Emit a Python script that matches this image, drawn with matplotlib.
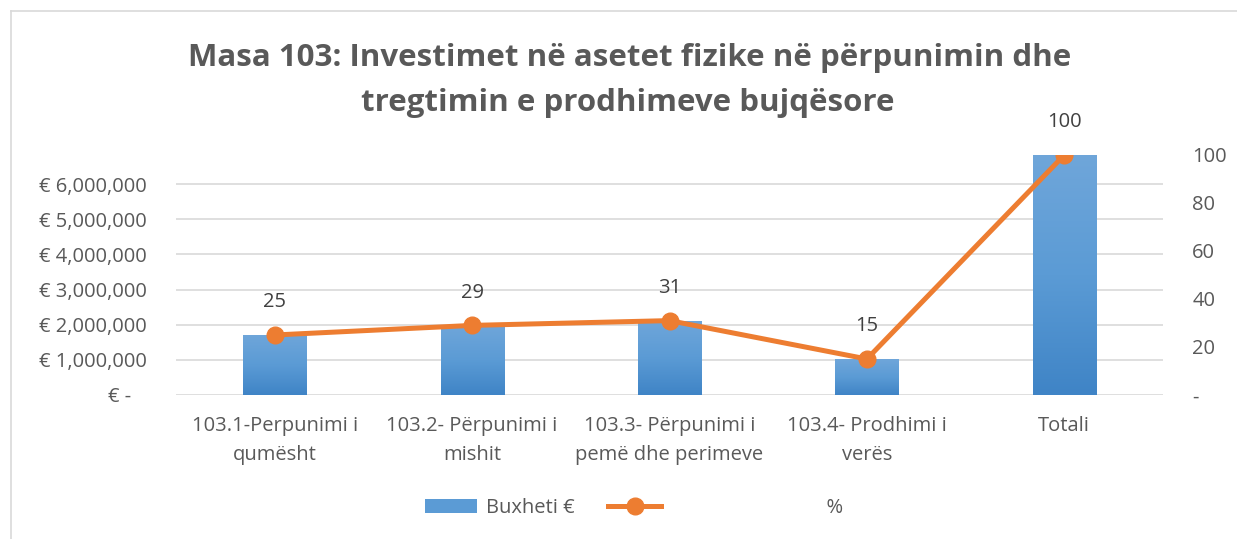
import numpy as np
import matplotlib.pyplot as plt
from matplotlib.lines import Line2D
from matplotlib.patches import Patch
from matplotlib.colors import LinearSegmentedColormap

# ---- data ----
categories = ["103.1-Perpunimi i\nqumësht", "103.2- Përpunimi i\nmishit",
              "103.3- Përpunimi i\npemë dhe perimeve", "103.4- Prodhimi i\nverës", "Totali"]
budget = [1720000, 1980000, 2110000, 1020000, 6830000]
percent = [25, 29, 31, 15, 100]
left_ticks = [0, 1000000, 2000000, 3000000, 4000000, 5000000, 6000000]
left_labels = ["€ -   ", "€ 1,000,000", "€ 2,000,000", "€ 3,000,000",
               "€ 4,000,000", "€ 5,000,000", "€ 6,000,000"]
right_ticks = [0, 20, 40, 60, 80, 100]
right_labels = ["-", "20", "40", "60", "80", "100"]

plt.rcParams['font.family'] = ['Open Sans', 'DejaVu Sans']
txt = "#595959"
orange = "#ED7D31"
fs = 14.5

fig = plt.figure(figsize=(12.37, 5.39), dpi=100)
ax = fig.add_axes([176 / 1237, 1 - 395 / 539, (1163 - 176) / 1237, 240 / 539])
ax2 = ax.twinx()

x = np.arange(len(categories))
width = 0.32

# ---- bars with vertical gradient ----
grad = np.linspace(0, 1, 256).reshape(-1, 1)
cmap = LinearSegmentedColormap.from_list("bar", ["#3f84c6", "#5b9bd5", "#6fa6da"])
bars = ax.bar(x, budget, width=width, color="#5b9bd5", zorder=2)
for b in bars:
    x0, y0 = b.get_x(), b.get_y()
    im = ax.imshow(grad, cmap=cmap, origin="lower", aspect="auto",
                   extent=[x0, x0 + b.get_width(), y0, y0 + b.get_height()], zorder=2)
    im.set_clip_path(b)

ax.set_xlim(-0.5, len(categories) - 0.5)
ax.set_ylim(0, budget[-1])
ax.set_yticks(left_ticks)
ax.set_yticklabels(left_labels)
ax.yaxis.grid(True, color="#d9d9d9", linewidth=1.2, zorder=0)
ax.set_axisbelow(True)
ax.set_xticks(x)
ax.set_xticklabels(categories, fontsize=fs, color=txt, linespacing=1.6)
ax.tick_params(axis="both", length=0, labelsize=fs, labelcolor=txt)
ax.tick_params(axis="x", pad=15)
ax.tick_params(axis="y", pad=21)
for s in ax.spines.values():
    s.set_visible(False)

# ---- line on secondary axis ----
ax2.plot(x, percent, color=orange, linewidth=3.6, marker="o", markersize=12,
         solid_capstyle="round", zorder=3)
for xi, p in zip(x, percent):
    ax2.annotate(str(p), (xi, p), xytext=(0, 23.5), textcoords="offset points",
                 ha="center", va="center", fontsize=fs, color="#404040")
ax2.set_ylim(0, 100)
ax2.set_yticks(right_ticks)
ax2.set_yticklabels(right_labels)
ax2.tick_params(axis="y", length=0, labelsize=fs, labelcolor=txt, pad=21)
for s in ax2.spines.values():
    s.set_visible(False)

# ---- title ----
fig.text(630 / 1237, 1 - 58 / 539, "Masa 103: Investimet në asetet fizike në përpunimin dhe",
         ha="center", va="center", fontsize=22.5, fontweight="bold", color=txt)
fig.text(628 / 1237, 1 - 103 / 539, "tregtimin e prodhimeve bujqësore",
         ha="center", va="center", fontsize=22.5, fontweight="bold", color=txt)

# ---- legend ----
handles = [Patch(facecolor="#5b9bd5"),
           Line2D([0], [0], color=orange, linewidth=3.6, marker="o", markersize=12)]
fig.legend(handles, ["Buxheti €", "                              %"],
           loc="center", bbox_to_anchor=(634 / 1237, 1 - 508 / 539), ncol=2,
           frameon=False, fontsize=fs, labelcolor=txt, handlelength=2.6,
           handletextpad=0.4, columnspacing=1.7)

# ---- chart border ----
fig.add_artist(Line2D([11 / 1237, 11 / 1237], [0, 1 - 11 / 539], color="#d9d9d9", linewidth=1.2))
fig.add_artist(Line2D([11 / 1237, 1], [1 - 11 / 539, 1 - 11 / 539], color="#d9d9d9", linewidth=1.2))

fig.savefig("out.png", dpi=100)
